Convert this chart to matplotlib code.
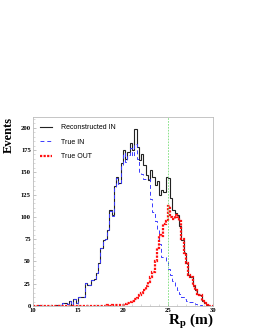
#!/usr/bin/env python3
"""R_p distribution: reconstructed IN vs true IN / true OUT"""

import numpy as np
import matplotlib
matplotlib.use('Agg')
import matplotlib.pyplot as plt
from matplotlib.ticker import AutoMinorLocator

plt.rcParams['mathtext.fontset'] = 'custom'
plt.rcParams['mathtext.rm'] = 'Liberation Serif:bold'
plt.rcParams['mathtext.bf'] = 'Liberation Serif:bold'
plt.rcParams['mathtext.it'] = 'Liberation Serif:bold'

# ---- data (0.25 m bins from 10 to 30 m) ----
bin_lo, bin_hi = 10.0, 30.0

reco_in = [
    0, 0, 1, 0, 0, 0, 0, 0, 0, 0,
    1, 1, 0, 3, 3, 2, 6, 1, 8, 3,
    10, 10, 10, 26, 24, 24, 29, 30, 37, 48,
    65, 74, 75, 85, 108, 102, 135, 145, 138, 160,
    175, 165, 173, 183, 175, 198, 178, 164, 170, 158,
    147, 141, 153, 145, 136, 140, 125, 130, 128, 145,
    144, 121, 108, 104, 102, 90, 74, 60, 48, 35,
    33, 22, 18, 14, 12, 6, 3, 1, 0, 0,
]

true_in = [
    0, 0, 1, 0, 0, 0, 0, 0, 0, 0,
    1, 1, 0, 3, 3, 2, 6, 1, 8, 3,
    10, 10, 10, 26, 24, 24, 29, 30, 37, 48,
    65, 74, 75, 85, 107, 101, 134, 144, 137, 158,
    172, 162, 169, 177, 168, 182, 165, 150, 148, 142,
    143, 142, 120, 105, 95, 85, 70, 55, 55, 50,
    42, 35, 28, 22, 18, 14, 10, 8, 6, 5,
    4, 3, 2, 1, 1, 0, 0, 0, 0, 0,
]

true_out = [
    0, 0, 0, 0, 0, 0, 0, 0, 0, 0,
    0, 0, 0, 0, 0, 0, 0, 0, 0, 0,
    0, 0, 0, 0, 0, 0, 0, 0, 0, 0,
    0, 0, 0, 1, 0, 1, 1, 1, 1, 1,
    1, 2, 3, 5, 6, 8, 9, 12, 15, 18,
    22, 27, 32, 38, 50, 65, 80, 78, 92, 95,
    112, 100, 98, 102, 100, 95, 75, 60, 48, 35,
    33, 22, 18, 14, 12, 6, 3, 1, 0, 0,
]

cut_value = 25.0
x_ticks = [10, 15, 20, 25, 30]
y_ticks = [0, 25, 50, 75, 100, 125, 150, 175, 200]

edges = np.linspace(bin_lo, bin_hi, len(reco_in) + 1)

# ---- figure ----
fig = plt.figure(figsize=(2.55, 3.30), dpi=100, facecolor='white')
ax = fig.add_axes([33 / 255, 24 / 330, 180 / 255, 189 / 330])

ax.stairs(reco_in, edges, color='#222222', lw=0.8, label='Reconstructed IN')
ax.stairs(true_in, edges, color='#3a3aff', lw=0.7, linestyle=(0, (4, 3)),
          label='True IN')
ax.stairs(true_out, edges, color='#ff1010', lw=1.6, linestyle=(0, (1, 0.6)),
          label='True OUT')
ax.axvline(cut_value, color='#77dd77', lw=0.6, linestyle=(0, (2, 1.5)))

ax.set_xlim(bin_lo, bin_hi)
ax.set_ylim(0, 212)
ax.set_xticks(x_ticks)
ax.set_yticks(y_ticks)
ax.xaxis.set_minor_locator(AutoMinorLocator(5))
ax.yaxis.set_minor_locator(AutoMinorLocator(5))

for lab in ax.get_xticklabels() + ax.get_yticklabels():
    lab.set_fontfamily('Liberation Serif')
    lab.set_fontweight('bold')
    lab.set_fontsize(4.8)

ax.tick_params(which='major', direction='in', length=2.5, width=0.5,
               color='#aaaaaa', pad=1.5)
ax.tick_params(which='minor', direction='in', length=1.2, width=0.4,
               color='#bbbbbb')
for sp in ax.spines.values():
    sp.set_color('#bbbbbb')
    sp.set_linewidth(0.6)

ax.set_ylabel('Events', fontsize=9, family='Liberation Serif',
              weight='bold', loc='top')
ax.yaxis.set_label_coords(-0.1, 1.0)
fig.text(191 / 255, 5 / 330, r'$\mathbf{R_p}$ (m)', fontsize=11,
         ha='center', va='baseline', family='Liberation Serif', weight='bold')

ax.legend(loc='upper left', frameon=False, handlelength=1.8,
          borderaxespad=0.6, labelspacing=1.1, handletextpad=1.2,
          prop={'family': 'Liberation Sans', 'size': 5})

fig.savefig('out.png', dpi=100, facecolor='white')
plt.close(fig)
